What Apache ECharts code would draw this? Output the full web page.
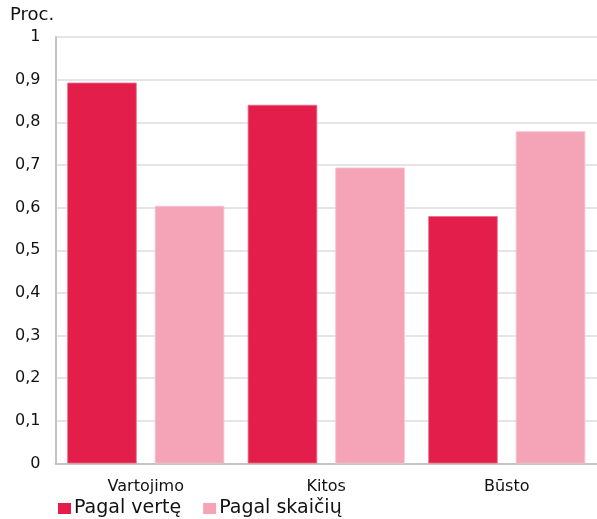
<!DOCTYPE html>
<html>
<head>
<meta charset="utf-8">
<script src="https://cdn.jsdelivr.net/npm/echarts@6/dist/echarts.min.js"></script>
<style>
html,body{margin:0;padding:0;background:#fff;}
#chart{width:597px;height:519px;}
</style>
</head>
<body>
<div id="chart"></div>
<script>
var categories = ['Vartojimo', 'Kitos', 'Būsto'];
var seriesNames = ['Pagal vertę', 'Pagal skaičių'];
var valuesByValue = [0.893, 0.841, 0.580];
var valuesByCount = [0.604, 0.694, 0.779];
var unitLabel = 'Proc.';

var FONT = 'DejaVu Sans';
var chart = echarts.init(document.getElementById('chart'), null, {renderer: 'canvas'});
chart.setOption({
  animation: false,
  backgroundColor: '#ffffff',
  title: {
    text: unitLabel,
    left: 10, top: 6, padding: 0,
    textStyle: {fontFamily: FONT, fontSize: 18, fontWeight: 'normal', color: '#111'}
  },
  legend: {
    data: seriesNames,
    left: 58, top: 499, padding: 0,
    itemWidth: 13, itemHeight: 11, itemGap: 22,
    icon: 'rect',
    itemStyle: {borderWidth: 0},
    textStyle: {fontFamily: FONT, fontSize: 19, color: '#111', lineHeight: 19, padding: [0,0,0,-2]}
  },
  grid: {left: 55.5, width: 545, top: 37, bottom: 55.5},
  xAxis: {
    type: 'category',
    data: categories,
    axisLine: {show: true, lineStyle: {color: '#c4c4c4', width: 2}},
    axisTick: {show: false},
    axisLabel: {fontFamily: FONT, fontSize: 16, color: '#111', margin: 15}
  },
  yAxis: {
    type: 'value',
    min: 0, max: 1, interval: 0.1,
    axisLine: {show: true, lineStyle: {color: '#c4c4c4', width: 2}},
    axisTick: {show: false},
    splitLine: {lineStyle: {color: '#dcdcdc', width: 1.5}},
    axisLabel: {
      fontFamily: FONT, fontSize: 16, color: '#111', margin: 15,
      formatter: function (v) { return v === 0 ? '0' : (v === 1 ? '1' : v.toFixed(1).replace('.', ',')); }
    }
  },
  series: [
    {
      name: seriesNames[0], type: 'bar', data: valuesByValue,
      barWidth: 69.5, barGap: '26%',
      itemStyle: {color: '#e31e4a', borderColor: '#ec6d88', borderWidth: 0.8}
    },
    {
      name: seriesNames[1], type: 'bar', data: valuesByCount,
      barWidth: 69.5, barGap: '26%',
      itemStyle: {color: '#f4a4b6', borderColor: '#f7c3cf', borderWidth: 0.8}
    }
  ]
});
</script>
</body>
</html>
